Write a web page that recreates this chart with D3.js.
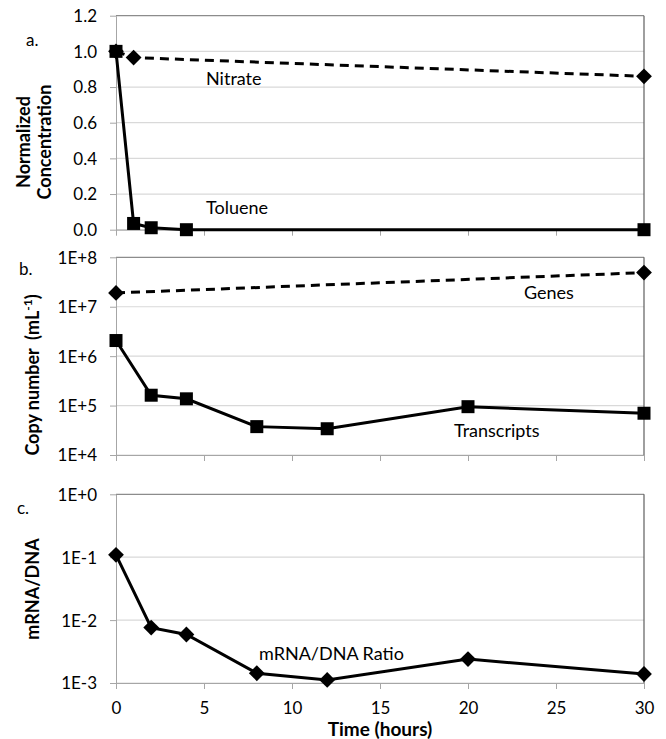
<!DOCTYPE html>
<html lang="en">
<head>
<meta charset="utf-8">
<title>Toluene / nitrate time course</title>
<script src="https://cdn.jsdelivr.net/npm/d3@7"></script>
<style>
  body { margin: 0; background: #fff; }
  svg text { font-family: Lato, "Open Sans", sans-serif; fill: #000; }
  .axis path, .axis line { stroke: #a6a6a6; }
  .axis text { font-size: 17px; }
</style>
</head>
<body>
<script>
// panel a: normalized concentration
const tolueneTime = [0, 1, 2, 4, 30];
const tolueneVals = [1.0, 0.035, 0.011, 0.0, 0.0];
const nitrateTime = [0, 1, 30];
const nitrateVals = [1.0, 0.965, 0.86];

// panel b: copy number
const genesTime = [0, 30];
const genesVals = [1.9e7, 4.9e7];
const transTime = [0, 2, 4, 8, 12, 20, 30];
const transVals = [2.07e6, 1.62e5, 1.37e5, 3.75e4, 3.4e4, 9.5e4, 7.0e4];

// panel c: mRNA/DNA ratio
const ratioTime = [0, 2, 4, 8, 12, 20, 30];
const ratioVals = [0.109, 0.0076, 0.0059, 0.00143, 0.00112, 0.0024, 0.00139];

const xTicks = [0, 5, 10, 15, 20, 25, 30];
const concTicks = [0, 0.2, 0.4, 0.6, 0.8, 1.0, 1.2];
const copyTicks = [1e4, 1e5, 1e6, 1e7, 1e8];
const ratioTicks = [1e-3, 1e-2, 1e-1, 1];

let w = 666;
let h = 739;
let left = 116, right = 644;

let svg = d3.select("body").append("svg")
  .attr("width", w)
  .attr("height", h);

let x = d3.scaleLinear().domain([0, 30]).range([left, right]);

let yA = d3.scaleLinear().domain([0, 1.2]).range([229.7, 15.7]);
let yB = d3.scaleLog().domain([1e4, 1e8]).range([455, 257.3]);
let yC = d3.scaleLog().domain([1e-3, 1]).range([683, 494.3]);

function expFmt(d) {
  let e = Math.round(Math.log10(d));
  return "1E" + (e < 0 ? "-" : "+") + Math.abs(e);
}

function frame(y, ticks, fmt, showX) {
  let top = y.range()[1], bottom = y.range()[0];

  // gridlines
  svg.append("g").selectAll("line")
    .data(ticks)
    .enter().append("line")
    .attr("x1", left).attr("x2", right)
    .attr("y1", d => y(d)).attr("y2", d => y(d))
    .attr("stroke", d => d === ticks[ticks.length - 1] ? "#8c8c8c" : "#d9d9d9")
    .attr("stroke-width", 1.2);

  // right border
  svg.append("line")
    .attr("x1", right).attr("x2", right)
    .attr("y1", top).attr("y2", bottom)
    .attr("stroke", "#5e5e5e")
    .attr("stroke-width", 1.2);

  svg.append("g")
    .attr("class", "axis")
    .attr("transform", "translate(" + left + ",0)")
    .call(d3.axisLeft(y).tickValues(ticks).tickFormat(fmt).tickSize(6).tickSizeOuter(0).tickPadding(13))
    .call(g => g.selectAll("text").attr("dy", "0.35em"));

  let xa = svg.append("g")
    .attr("class", "axis")
    .attr("transform", "translate(0," + bottom + ")")
    .call(d3.axisBottom(x).tickValues(xTicks).tickSize(6).tickSizeOuter(0).tickPadding(13));
  if (!showX) xa.selectAll("text").remove();
}

frame(yA, concTicks, d3.format(".1f"), false);
frame(yB, copyTicks, expFmt, false);
frame(yC, ratioTicks, expFmt, true);

function series(times, vals, y, dashed, marker) {
  let pts = times.map((t, i) => [t, vals[i]]);
  let line = d3.line().x(d => x(d[0])).y(d => y(d[1]));
  svg.append("path")
    .datum(pts)
    .attr("d", line)
    .attr("fill", "none")
    .attr("stroke", "#000")
    .attr("stroke-width", 3)
    .attr("stroke-dasharray", dashed ? "9,6" : null);

  let sym = marker === "square"
    ? d3.symbol().type(d3.symbolSquare).size(169)
    : d3.symbol().type(d3.symbolSquare).size(125);
  svg.append("g").selectAll("path")
    .data(pts)
    .enter().append("path")
    .attr("d", sym)
    .attr("fill", "#000")
    .attr("transform", d => "translate(" + x(d[0]) + "," + y(d[1]) + ")" + (marker === "diamond" ? " rotate(45)" : ""));
}

series(nitrateTime, nitrateVals, yA, true, "diamond");
series(tolueneTime, tolueneVals, yA, false, "square");
series(genesTime, genesVals, yB, true, "diamond");
series(transTime, transVals, yB, false, "square");
series(ratioTime, ratioVals, yC, false, "diamond");

// text labels
function label(txt, lx, ly, opts) {
  opts = opts || {};
  return svg.append("text")
    .attr("x", lx).attr("y", ly)
    .attr("font-size", opts.size || 18)
    .attr("font-weight", opts.bold ? "bold" : null)
    .attr("text-anchor", opts.anchor || "start")
    .attr("dy", "0.35em")
    .text(txt);
}

label("a.", 26, 40, {size: 17});
label("b.", 19, 269, {size: 17});
label("c.", 17, 508, {size: 17});

label("Nitrate", 206, 79);
label("Toluene", 206, 208);
label("Genes", 524, 293);
label("Transcripts", 454, 431);
label("mRNA/DNA Ratio", 259, 654);

label("Time (hours)", 380, 729, {bold: true, anchor: "middle", size: 19});

function yTitle(cx, cy) {
  return svg.append("text")
    .attr("transform", "translate(" + cx + "," + cy + ") rotate(-90)")
    .attr("text-anchor", "middle")
    .attr("dy", "0.35em")
    .attr("font-size", 18)
    .attr("font-weight", "bold");
}

yTitle(24, 142).text("Normalized");
yTitle(45, 142).text("Concentration");

let cp = yTitle(33, 375);
cp.append("tspan").text("Copy number\u00a0 (mL");
cp.append("tspan").attr("font-size", 12).attr("baseline-shift", "super").text("-1");
cp.append("tspan").text(")");

yTitle(33, 589).text("mRNA/DNA");
</script>
</body>
</html>
